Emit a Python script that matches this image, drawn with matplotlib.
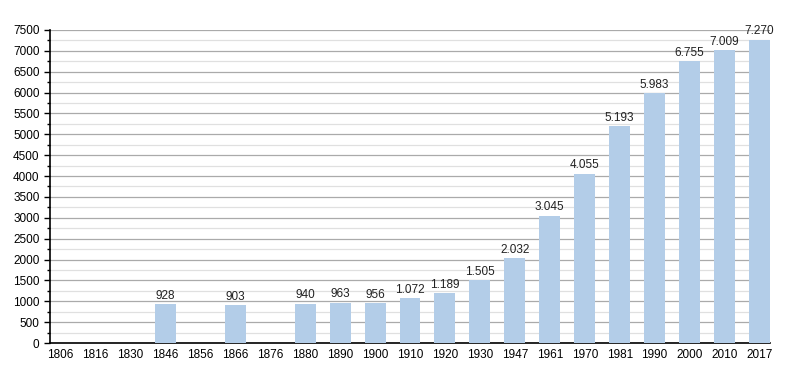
import matplotlib
matplotlib.use("Agg")
from matplotlib import pyplot as plt
from matplotlib.ticker import MultipleLocator

years = ['1806', '1816', '1830', '1846', '1856', '1866', '1876', '1880', '1890', '1900', '1910',
         '1920', '1930', '1947', '1961', '1970', '1981', '1990', '2000', '2010', '2017']
population = [None, None, None, 928, None, 903, None, 940, 963, 956, 1072,
              1189, 1505, 2032, 3045, 4055, 5193, 5983, 6755, 7009, 7270]

plt.rcParams['font.family'] = ['Liberation Sans', 'DejaVu Sans']

fig = plt.figure(figsize=(8, 3.73), dpi=100)
ax = fig.add_axes([50 / 800, 30 / 373, 720 / 800, 313 / 373])

xs = list(range(len(years)))
heights = [v if v is not None else 0 for v in population]
ax.bar(xs, heights, width=0.6, color='#b3cde8', zorder=3)

for x, v in zip(xs, population):
    if v is None:
        continue
    label = f'{v:,}'.replace(',', '.')
    ax.text(x, v + 60, label, ha='center', va='bottom', fontsize=8.5, color='#222222', zorder=4)

ax.set_xlim(-0.3, len(years) - 0.7)
ax.set_ylim(0, 7500)
ax.set_xticks(xs)
ax.set_xticklabels(years, fontsize=8.5)
ax.yaxis.set_major_locator(MultipleLocator(500))
ax.yaxis.set_minor_locator(MultipleLocator(250))
ax.tick_params(axis='y', labelsize=8.5, length=4, width=1, color='black')
ax.tick_params(axis='y', which='minor', length=2, width=1)
ax.tick_params(axis='x', length=0, pad=4)

ax.grid(axis='y', which='major', color='#aaaaaa', linewidth=0.9, zorder=0)
ax.grid(axis='y', which='minor', color='#e0e0e0', linewidth=0.9, zorder=0)

for s in ['top', 'right']:
    ax.spines[s].set_visible(False)
ax.spines['left'].set_linewidth(1.2)
ax.spines['bottom'].set_linewidth(1.2)

fig.savefig('out.png', dpi=100)
